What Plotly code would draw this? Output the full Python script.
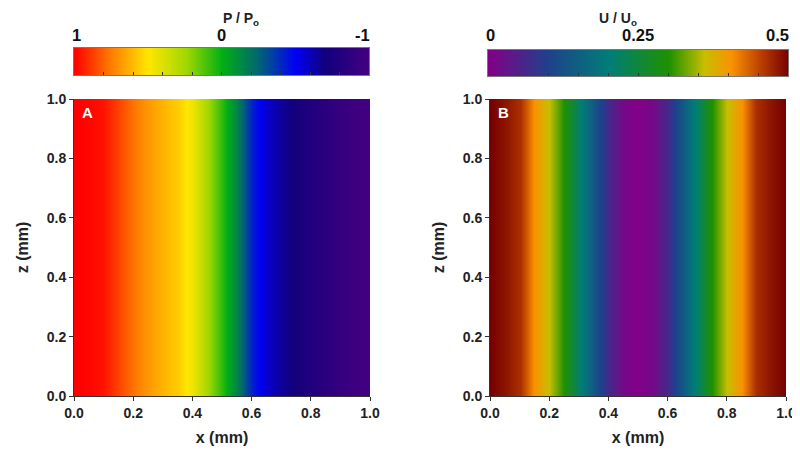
import plotly.graph_objects as go

# ---------------- data ----------------
x_mm = [0.0, 0.05, 0.1, 0.15, 0.2, 0.25, 0.3, 0.35, 0.4, 0.45, 0.5,
        0.55, 0.6, 0.65, 0.7, 0.75, 0.8, 0.85, 0.9, 0.95, 1.0]
z_mm = [0.0, 1.0]

# P / Po across x (uniform along z)
p_ratio = [1.0, 0.99, 0.96, 0.87, 0.77, 0.69, 0.62, 0.56, 0.46, 0.26, 0.07,
           -0.15, -0.42, -0.56, -0.65, -0.72, -0.79, -0.85, -0.91, -0.96, -1.0]
# U / Uo across x (uniform along z)
u_ratio = [0.5, 0.485, 0.465, 0.405, 0.36, 0.30, 0.215, 0.135, 0.065, 0.015, 0.0,
           0.015, 0.065, 0.135, 0.215, 0.30, 0.36, 0.405, 0.465, 0.485, 0.5]

# colour-bar sample values and tick labels
cbar_p_vals = [1.0, 0.75, 0.5, 0.25, 0.0, -0.25, -0.5, -0.75, -1.0]
cbar_p_ticks = [1, 0, -1]
cbar_p_text = ["1", "0", "-1"]
cbar_u_vals = [0.0, 0.0625, 0.125, 0.1875, 0.25, 0.3125, 0.375, 0.4375, 0.5]
cbar_u_ticks = [0, 0.25, 0.5]
cbar_u_text = ["0", "0.25", "0.5"]
axis_ticks = [0.0, 0.2, 0.4, 0.6, 0.8, 1.0]

# ---------------- styles ----------------
cs_p = [[0.0, "rgb(68,0,128)"], [0.15, "rgb(18,0,125)"], [0.25, "rgb(0,0,245)"],
        [0.38, "rgb(0,105,110)"], [0.5, "rgb(0,175,20)"], [0.62, "rgb(160,215,0)"],
        [0.75, "rgb(255,230,0)"], [0.87, "rgb(255,130,0)"], [1.0, "rgb(255,0,0)"]]
cs_u = [[0.0, "rgb(130,0,135)"], [0.2, "rgb(30,65,140)"], [0.4, "rgb(0,125,120)"],
        [0.6, "rgb(30,145,0)"], [0.72, "rgb(200,190,0)"], [0.81, "rgb(250,145,0)"],
        [0.91, "rgb(185,60,0)"], [1.0, "rgb(118,0,0)"]]

FONT = "Liberation Sans, Arial, sans-serif"
OFF = 8                      # page body margin
W, H = 800 - OFF, 457 - OFF

def px(xp):
    return (xp - OFF) / W

def py(yp):
    return 1 - (yp - OFF) / H

fig = go.Figure()

# main heatmaps
fig.add_trace(go.Heatmap(x=x_mm, y=z_mm, z=[p_ratio, p_ratio], colorscale=cs_p,
                         zmin=-1, zmax=1, zsmooth="best", showscale=False,
                         xaxis="x", yaxis="y", hoverinfo="skip"))
fig.add_trace(go.Heatmap(x=x_mm, y=z_mm, z=[u_ratio, u_ratio], colorscale=cs_u,
                         zmin=0, zmax=0.5, zsmooth="best", showscale=False,
                         xaxis="x2", yaxis="y2", hoverinfo="skip"))
# colour bars drawn as heatmaps
fig.add_trace(go.Heatmap(x=cbar_p_vals, y=[0, 1], z=[cbar_p_vals, cbar_p_vals],
                         colorscale=cs_p, zmin=-1, zmax=1, zsmooth="best",
                         showscale=False, xaxis="x3", yaxis="y3", hoverinfo="skip"))
fig.add_trace(go.Heatmap(x=cbar_u_vals, y=[0, 1], z=[cbar_u_vals, cbar_u_vals],
                         colorscale=cs_u, zmin=0, zmax=0.5, zsmooth="best",
                         showscale=False, xaxis="x4", yaxis="y4", hoverinfo="skip"))

tickfont = dict(family=FONT, size=14, color="#222", weight="bold")
titlefont = dict(family=FONT, size=16, color="#222", weight="bold")

def main_x(dom):
    return dict(domain=dom, range=[0, 1], tickvals=axis_ticks, tickformat=".1f",
                ticks="outside", ticklen=4, tickcolor="#333", showline=True,
                linecolor="#333", linewidth=1, showgrid=False, zeroline=False,
                automargin=False,
                tickfont=tickfont, title=dict(text="x (mm)", font=titlefont, standoff=12))

def main_y(dom, anchor):
    return dict(domain=dom, range=[0, 1], tickvals=axis_ticks, tickformat=".1f",
                ticks="outside", ticklen=4, tickcolor="#333", showline=True,
                linecolor="#333", linewidth=1, showgrid=False, zeroline=False,
                tickfont=tickfont, anchor=anchor, automargin=False,
                title=dict(text="z (mm)", font=titlefont, standoff=14))

def cbar_x(dom, rng):
    return dict(domain=dom, range=rng, side="top", showticklabels=False, ticks="",
                automargin=False, showline=True, mirror=True, linecolor="#777",
                linewidth=1, showgrid=False, zeroline=False)

def cbar_y(dom, anchor):
    return dict(domain=dom, range=[0, 1], anchor=anchor, showticklabels=False,
                ticks="", showline=True, mirror=True, automargin=False,
                linecolor="#777", linewidth=1, showgrid=False, zeroline=False)

def cbar_ticks(over, rng, anchor, step):
    return dict(overlaying=over, range=rng, anchor=anchor, side="bottom",
                dtick=step, tick0=0, ticks="inside", ticklen=3, tickcolor="#333",
                automargin=False, showticklabels=False, showgrid=False,
                zeroline=False, showline=False)

ydom = [py(396), py(99)]
fig.update_layout(
    width=W, height=H, margin=dict(l=0, r=0, t=0, b=0, autoexpand=False),
    paper_bgcolor="white", plot_bgcolor="white", showlegend=False,
    xaxis=dict(main_x([px(74), px(370)]), anchor="y"),
    yaxis=main_y(ydom, "x"),
    xaxis2=dict(main_x([px(490), px(786)]), anchor="y2"),
    yaxis2=main_y(ydom, "x2"),
    xaxis3=dict(cbar_x([px(74), px(369)], [1, -1]), anchor="y3"),
    yaxis3=cbar_y([py(75), py(48)], "x3"),
    xaxis5=cbar_ticks("x3", [1, -1], "y3", 0.2),
    xaxis4=dict(cbar_x([px(488), px(788)], [0, 0.5]), anchor="y4"),
    yaxis4=cbar_y([py(76), py(50)], "x4"),
    xaxis6=cbar_ticks("x4", [0, 0.5], "y4", 0.05),
)
# dummy traces so overlay tick axes render
fig.add_trace(go.Scatter(x=[None], y=[None], xaxis="x5", yaxis="y3", showlegend=False))
fig.add_trace(go.Scatter(x=[None], y=[None], xaxis="x6", yaxis="y4", showlegend=False))

# colour-bar tick labels (positioned on the colour-bar axes)
cb_font = dict(family=FONT, size=16.5, color="#111", weight="bold")
anchors = ["left", "center", "right"]
for ticks, texts, xr in [(cbar_p_ticks, cbar_p_text, "x3"), (cbar_u_ticks, cbar_u_text, "x4")]:
    for v, t, a in zip(ticks, texts, anchors):
        fig.add_annotation(x=v, y=py(35), xref=xr, yref="paper", xanchor=a,
                           yanchor="middle", text=t, showarrow=False, font=cb_font,
                           borderpad=0,
                           xshift=(-3 if a == "left" else (2 if a == "right" else 0)))

ann_font = dict(family=FONT, size=14, color="#222", weight="bold")
fig.add_annotation(x=px(222), y=py(9), xref="paper", yref="paper", yanchor="top",
                   borderpad=0, text="P / P<sub>o</sub>", showarrow=False, font=ann_font)
fig.add_annotation(x=px(638), y=py(9), xref="paper", yref="paper", yanchor="top",
                   borderpad=0, text="U / U<sub>o</sub>", showarrow=False, font=ann_font)
panel_font = dict(family=FONT, size=15, color="white", weight="bold")
fig.add_annotation(x=px(80), y=py(112), xref="paper", yref="paper", xanchor="left",
                   yanchor="middle", text="A", showarrow=False, font=panel_font)
fig.add_annotation(x=px(496), y=py(112), xref="paper", yref="paper", xanchor="left",
                   yanchor="middle", text="B", showarrow=False, font=panel_font)

fig.write_html("out.html")
